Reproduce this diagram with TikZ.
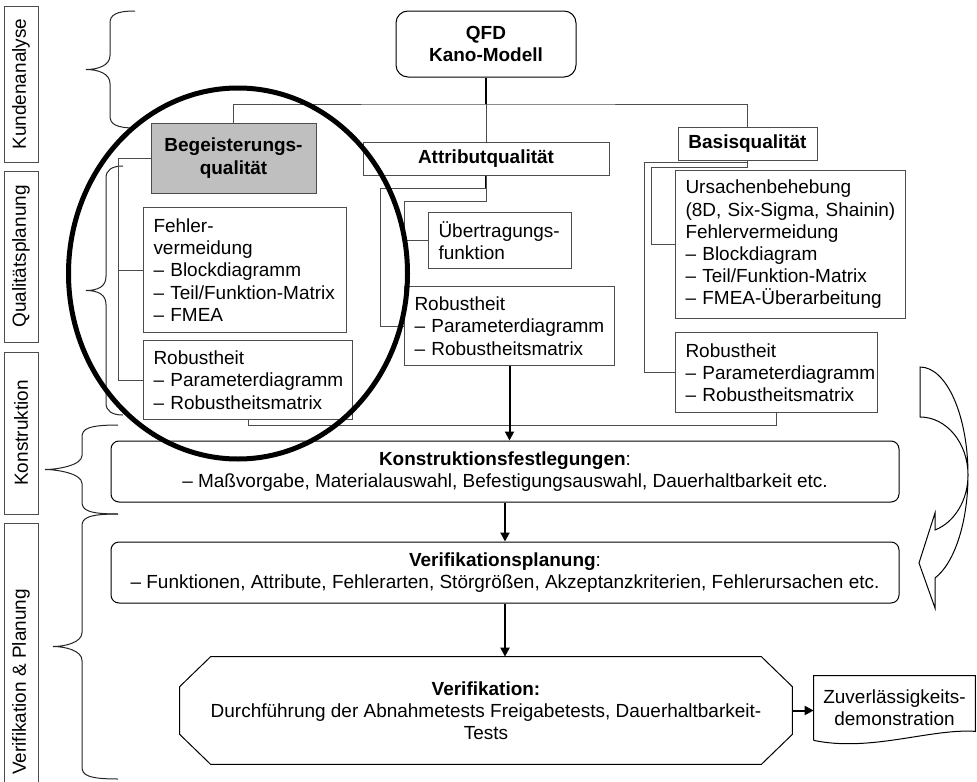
\documentclass[tikz,border=0pt]{standalone}
\usepackage{fontspec}
\setmainfont{Liberation Sans}
\usepackage{xcolor}
\usepackage{tikz}
\usetikzlibrary{arrows.meta,positioning,calc}
\definecolor{linegray}{gray}{0.3}
\newlength{\pxu}
\setlength{\pxu}{0.02cm}
\newcommand{\sidebrace}[5]{%
  \draw[bracepath] (#4,#1) .. controls ({#3+6},#1) and (#3,{#1+4}) .. (#3,{#1+12})
    -- (#3,{(#1+#2)/2-14}) .. controls (#3,{(#1+#2)/2-4}) and ({#5+12},{(#1+#2)/2}) .. (#5,{(#1+#2)/2})
    .. controls ({#5+12},{(#1+#2)/2}) and (#3,{(#1+#2)/2+4}) .. (#3,{(#1+#2)/2+14})
    -- (#3,{#2-12}) .. controls (#3,{#2-4}) and ({#3+6},#2) .. (#4,#2);}

\begin{document}
\begin{tikzpicture}[
    x=0.02cm,y=-0.02cm,
    font=\fontsize{10.8}{12.65}\selectfont,
    box/.style={draw=linegray,fill=white,line width=\pxu,inner sep=0pt},
    headbox/.style={box,align=center,minimum height=33\pxu},
    listbox/.style={box,anchor=north west,align=left,inner xsep=10\pxu,
      execute at begin node={\hyphenpenalty=10000\exhyphenpenalty=10000}},
    stepbox/.style={draw,fill=white,rounded corners=8\pxu,line width=\pxu,
      minimum width=788\pxu,minimum height=61\pxu,align=center},
    sidelabel/.style={draw=linegray,line width=\pxu,rotate=90,minimum height=34\pxu,inner sep=0pt},
    bracepath/.style={draw=black!85,line width=\pxu},
    link/.style={draw=linegray,line width=\pxu},
    stub/.style={line width=0.04cm},
    flow/.style={line width=0.04cm,-{Triangle[length=0.18cm,width=0.18cm]}}
  ]
    \useasboundingbox[fill=white] (0,0) rectangle (977,781);
    \clip (0,0) rectangle (977,781);

    \node[sidelabel,minimum width=156\pxu] (kunden) at (21,84) {Kundenanalyse};
    \node[sidelabel,minimum width=171\pxu] (qualpl) at (21,256.5) {Qualitätsplanung};
    \node[sidelabel,minimum width=162\pxu] (konstr) at (21,433) {Konstruktion};
    \node[sidelabel,minimum width=318\pxu] (verlabel) at (21,682) {Verifikation \& Planung};

    \sidebrace{11}{128}{110}{135}{86}
    \sidebrace{166}{415}{106}{123}{86}
    \sidebrace{425}{514}{82}{118}{45}
    \sidebrace{514}{779}{82}{118}{53}

    \node[box,draw=black,rounded corners=12\pxu,minimum width=180\pxu,minimum height=66\pxu,align=center] (qfd) at (486,44) {\textbf{QFD}\\\textbf{Kano-Modell}};
    \node[box,fill=black!25,minimum width=165\pxu,minimum height=70\pxu,align=center] (beg) at (233.5,158) {\textbf{Begeisterungs-}\\\textbf{qualität}};
    \node[headbox,minimum width=246\pxu] (attr) at (486,158.5) {\textbf{Attributqualität}};
    \node[headbox,minimum width=139\pxu] (basis) at (747.5,143.5) {\textbf{Basisqualität}};

    \node[listbox,text width=183\pxu,minimum height=125\pxu] (fehler) at (143,207) {Fehler-\\vermeidung\\–~Blockdiagramm\\–~Teil/Funktion-Matrix\\–~FMEA};
    \node[listbox,text width=189\pxu,minimum height=79\pxu] (rob1) at (143,340) {Robustheit\\–~Parameterdiagramm\\–~Robustheitsmatrix};
    \node[listbox,text width=123\pxu,minimum height=56\pxu] (uebertr) at (428,212) {Übertragungs-\\funktion};
    \node[listbox,text width=190\pxu,minimum height=79\pxu] (rob2) at (404,286) {Robustheit\\–~Parameterdiagramm\\–~Robustheitsmatrix};
    \node[listbox,text width=210\pxu,minimum height=148\pxu] (ursachen) at (675,170) {Ursachenbehebung\\(8D,~Six-Sigma,~Shainin)\\Fehlervermeidung\\–~Blockdiagram\\–~Teil/Funktion-Matrix\\–~FMEA-Überarbeitung};
    \node[listbox,text width=182\pxu,minimum height=80\pxu] (rob3) at (675,332) {Robustheit\\–~Parameterdiagramm\\–~Robustheitsmatrix};

    \node[stepbox] (konst) at (505,471.5) {\textbf{Konstruktionsfestlegungen}:\\– Maßvorgabe, Materialauswahl, Befestigungsauswahl, Dauerhaltbarkeit etc.};
    \node[stepbox,below=39\pxu of konst] (verplan) {\textbf{Verifikationsplanung}:\\– Funktionen, Attribute, Fehlerarten, Störgrößen, Akzeptanzkriterien, Fehlerursachen etc.};
    \node[minimum width=612\pxu,minimum height=107\pxu,align=center] (verif) at (486,710.5) {\textbf{Verifikation:}\\Durchführung der Abnahmetests Freigabetests, Dauerhaltbarkeit-\\Tests};
    \node[minimum width=161\pxu,minimum height=64\pxu,align=center,inner sep=0pt] (zuver) at (894.5,708) {Zuverlässigkeits-\\demonstration};

    \draw[line width=\pxu] ([xshift=31\pxu]verif.north west) -- ([xshift=-31\pxu]verif.north east)
      -- ([yshift=-30\pxu]verif.north east) -- ([yshift=30\pxu]verif.south east)
      -- ([xshift=-31\pxu]verif.south east) -- ([xshift=31\pxu]verif.south west)
      -- ([yshift=30\pxu]verif.south west) -- ([yshift=-30\pxu]verif.north west) -- cycle;
    \draw[line width=\pxu] (zuver.south west) -- (zuver.north west) -- (zuver.north east)
      -- ($(zuver.south east)+(0,-9)$) .. controls ($(zuver.south east)+(-45,-12)$) and ($(zuver.south east)+(-105,12)$) .. (zuver.south west);

    \coordinate (qfdhub) at (486,104);
    \draw[stub] (qfd) -- (qfdhub);
    \draw[link] (beg.north) |- (qfdhub) -| (basis.north);
    \draw[link] (qfdhub) -- (attr.north);

    \draw[link] (beg.west) -- ++(-32,0) |- (rob1.west);
    \draw[link] (fehler.west) -- ++(-24,0);

    \draw[stub] (attr.south) -- ++(0,13);
    \draw[link] (attr.south) -- ++(0,13) -- ++(-106,0) |- (rob2.west);
    \draw[link] (attr.south) -- ++(0,26) -- ++(-82,0) |- (uebertr.west);

    \draw[link] (basis.south) -- ++(0,2) -- ++(-103.5,0) |- (rob3.west);
    \draw[link] (basis.south) -- ++(0,7) -- ++(-96.5,0) |- (ursachen.west);

    \draw[link] (rob1.south) -- ++(0,5) -| (rob3.south);

    \draw[flow] (rob2.south) -- (rob2.south |- konst.north);
    \draw[flow] (konst.south) -- (verplan.north);
    \draw[flow] (verplan.south) -- (verplan.south |- verif.north);
    \draw[flow] (verif.east) -- (verif.east -| zuver.west);

    \draw[line width=0.1cm] (238,273.5) ellipse [x radius=169.5,y radius=185.5];

    \draw[line width=\pxu] (920,367) .. controls (946.5,367) and (968,415.4) .. (968,475)
      .. controls (968,521.6) and (954.7,563) .. (935,578) -- (935,608) -- (919,563) -- (935,513) -- (935,530)
      .. controls (954.7,522.3) and (968,500) .. (968,475) .. controls (968,443) and (946.5,417) .. (920,417) -- cycle;
  \end{tikzpicture}
\end{document}
